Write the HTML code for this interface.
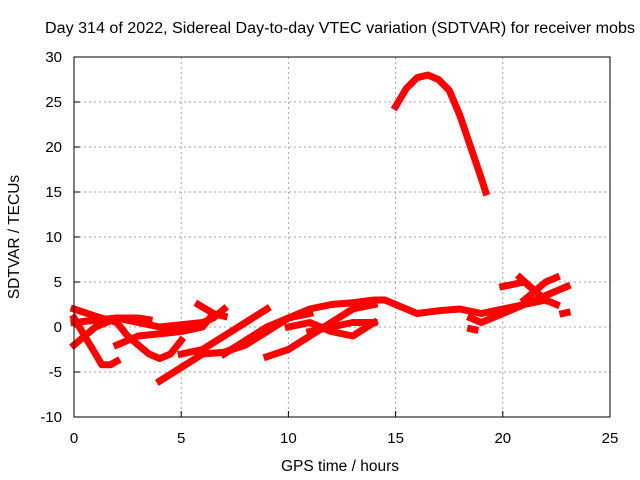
<!DOCTYPE html>
<html><head><meta charset="utf-8"><style>
body{margin:0;background:#fff}
svg{display:block;font-family:"Liberation Sans",sans-serif;font-size:15px}
</style></head><body>
<svg id="c" width="640" height="480">
<text x="45" y="33" textLength="590" lengthAdjust="spacingAndGlyphs" style="font-size:15.5px">Day 314 of 2022, Sidereal Day-to-day VTEC variation (SDTVAR) for receiver mobs</text>
<text x="340" y="471" text-anchor="middle" style="font-size:15.5px">GPS time / hours</text>
<text transform="translate(19,237) rotate(-90)" text-anchor="middle" style="font-size:15.5px">SDTVAR / TECUs</text>
<g id="grid"></g><g id="marks"></g>
<rect x="74" y="57" width="536" height="360" fill="none" stroke="#000" stroke-width="1"/>
</svg>
<script>
const xTicks=[0,5,10,15,20,25];
const yTicks=[-10,-5,0,5,10,15,20,25,30];
const arc=[[15,24.5],[15.5,26.5],[16,27.7],[16.5,28],[17,27.5],[17.5,26.3],[18,23.5],[18.5,20],[19,16.5],[19.2,15]];
const trackA=[[0,-2],[1,0],[2,1],[3,1],[3.5,0.8]];
const trackB=[[0,1],[0.5,-1],[1,-3],[1.3,-4.2],[1.7,-4.2],[2,-3.8]];
const trackC=[[0,2],[1,1.2],[2,0.5],[2.5,-1],[3.5,-3],[4,-3.5],[4.5,-3],[5,-1.5]];
const trackD=[[0,0.5],[2,1],[4,0],[6,0.5],[6.5,1],[7,2]];
const trackE=[[2,-2],[3,-1],[5,-0.5],[6,0],[6.5,1.5],[5.8,2.5]];
const trackE2=[[6.5,1.5],[7,1.2]];
const trackF=[[4,-6],[5,-4.5],[6,-3],[7,-2.8],[8,-2],[9,-0.5],[10,1],[11,2],[12,2.5],[13,2.7],[14,3],[14.5,3],[15,2.5],[15.5,2],[16,1.5],[17,1.8],[18,2],[19,1.5],[20,2],[21,2.5],[22,3.5],[23,4.5]];
const trackG=[[5,-3],[6,-2.5],[7,-1],[8,0.5],[9,2]];
const trackH=[[7,-3],[8,-1.5],[9,0],[10,1],[11,1.5]];
const trackI=[[9,-3.3],[10,-2.5],[11,-1],[12,0.5],[13,2],[14,2.5]];
const trackJ=[[10,0],[11,0.5],[12,-0.5],[13,-1],[14,0.5]];
const trackK=[[11,-0.5],[12,0],[13,0.5],[14,0.5]];
const trackL=[[18.5,-0.2],[18.7,-0.3]];
const trackM=[[18.5,1],[19,0.5],[20,1.5],[21,2.5],[22,3]];
const trackN=[[20,4.5],[21,5],[21.5,4],[22,3],[22.5,2.5]];
const trackO=[[20.8,5.5],[21.5,4],[22,3]];
const trackP=[[21,3],[22,5],[22.5,5.5]];
const trackQ=[[22.8,1.5],[23,1.6]];
const tracks=[arc,trackA,trackB,trackC,trackD,trackE,trackE2,trackF,trackG,trackH,trackI,trackJ,trackK,trackL,trackM,trackN,trackO,trackP,trackQ];
const X=h=>74+h*536/25, Y=v=>57+(30-v)*9;
const NS="http://www.w3.org/2000/svg";
const g=document.getElementById('grid'), m=document.getElementById('marks');
function mk(t,a,p){const e=document.createElementNS(NS,t);for(const k in a)e.setAttribute(k,a[k]);p.appendChild(e);return e;}
xTicks.forEach(t=>{
 if(t>0&&t<25){const l=mk('line',{x1:X(t),x2:X(t),y1:57,y2:417,stroke:'#a0a0a0','stroke-dasharray':'2,3'},g);
 
 }
 const tk=mk('line',{x1:X(t),x2:X(t),y1:417,y2:411,stroke:'#000'},g);
 
 
 const tx=mk('text',{x:X(t),y:443,'text-anchor':'middle'},g);tx.textContent=t;
 
 
});
yTicks.forEach(t=>{
 if(t>-10&&t<30){const l=mk('line',{x1:74,x2:610,y1:Y(t),y2:Y(t),stroke:'#a0a0a0','stroke-dasharray':'2,3'},g);
 
 }
 const tk=mk('line',{x1:74,x2:80,y1:Y(t),y2:Y(t),stroke:'#000'},g);
 
 
 const tx=mk('text',{x:62,y:Y(t)+5,'text-anchor':'end'},g);tx.textContent=t;
 
 
});
tracks.forEach(tr=>{
 const p=mk('polyline',{points:tr.map(d=>X(d[0])+','+Y(d[1])).join(' '),fill:'none',stroke:'#ff0000','stroke-width':7,'stroke-linejoin':'round','stroke-linecap':'square'},m);
 
 
});
</script>
</body></html>
